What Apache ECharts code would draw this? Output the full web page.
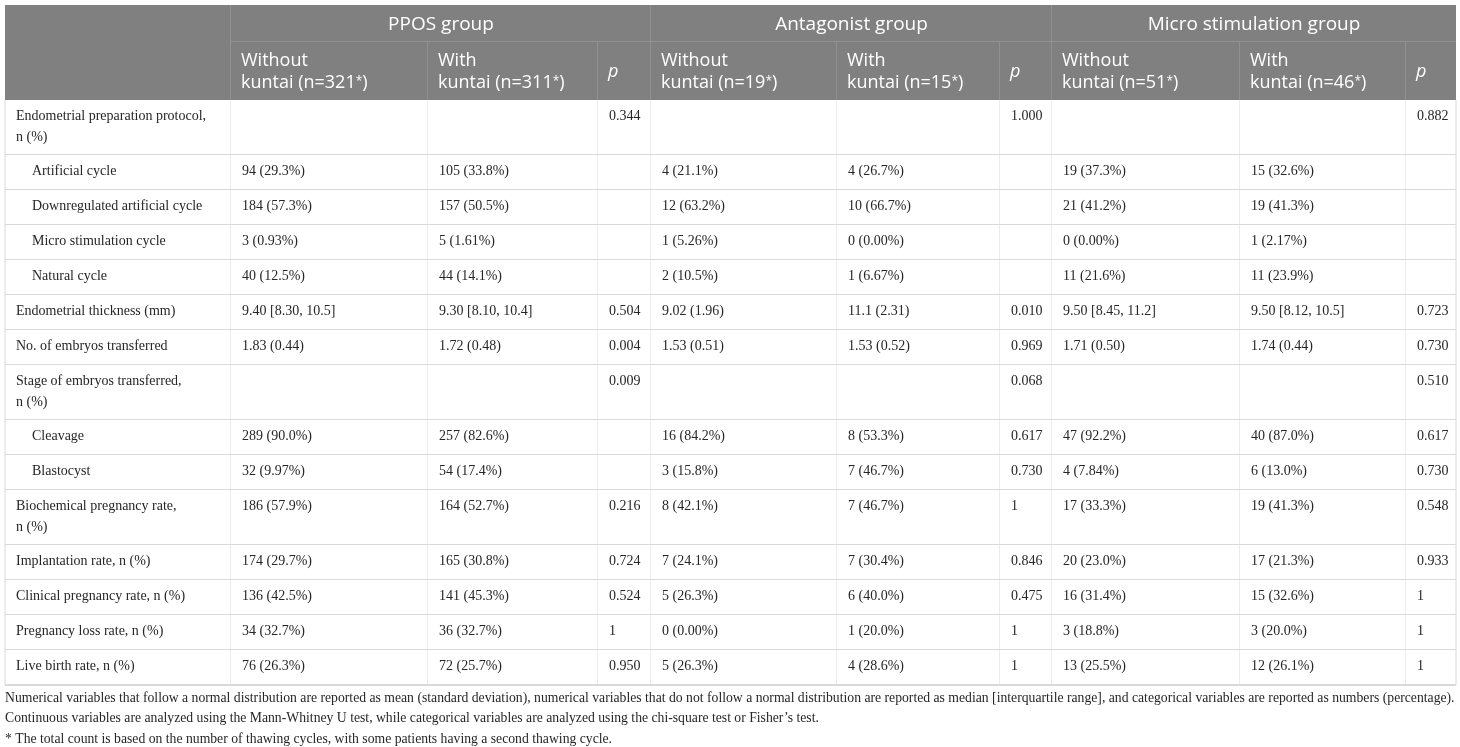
<!DOCTYPE html>
<html>
<head>
<meta charset="utf-8">
<script src="https://cdn.jsdelivr.net/npm/echarts@6/dist/echarts.min.js"></script>
<style>
  html, body { margin: 0; padding: 0; background: #fff; }
  #main { width: 1460px; height: 747px; }
</style>
</head>
<body>
<div id="main"></div>
<script>
// table content ---------------------------------------------------------------
const groupNames = ['PPOS group', 'Antagonist group', 'Micro stimulation group'];
const nWithout = [321, 19, 51];
const nWith = [311, 15, 46];

const rowLabels = [
    'Endometrial preparation protocol,\nn (%)',
    'Artificial cycle',
    'Downregulated artificial cycle',
    'Micro stimulation cycle',
    'Natural cycle',
    'Endometrial thickness (mm)',
    'No. of embryos transferred',
    'Stage of embryos transferred,\nn (%)',
    'Cleavage',
    'Blastocyst',
    'Biochemical pregnancy rate,\nn (%)',
    'Implantation rate, n (%)',
    'Clinical pregnancy rate, n (%)',
    'Pregnancy loss rate, n (%)',
    'Live birth rate, n (%)'
];
// rows that are sub-categories (indented)
const subRows = [1, 2, 3, 4, 8, 9];

const pposWithout = ['', '94 (29.3%)', '184 (57.3%)', '3 (0.93%)', '40 (12.5%)', '9.40 [8.30, 10.5]', '1.83 (0.44)', '', '289 (90.0%)', '32 (9.97%)', '186 (57.9%)', '174 (29.7%)', '136 (42.5%)', '34 (32.7%)', '76 (26.3%)'];
const pposWith = ['', '105 (33.8%)', '157 (50.5%)', '5 (1.61%)', '44 (14.1%)', '9.30 [8.10, 10.4]', '1.72 (0.48)', '', '257 (82.6%)', '54 (17.4%)', '164 (52.7%)', '165 (30.8%)', '141 (45.3%)', '36 (32.7%)', '72 (25.7%)'];
const pposP = ['0.344', '', '', '', '', '0.504', '0.004', '0.009', '', '', '0.216', '0.724', '0.524', '1', '0.950'];

const antWithout = ['', '4 (21.1%)', '12 (63.2%)', '1 (5.26%)', '2 (10.5%)', '9.02 (1.96)', '1.53 (0.51)', '', '16 (84.2%)', '3 (15.8%)', '8 (42.1%)', '7 (24.1%)', '5 (26.3%)', '0 (0.00%)', '5 (26.3%)'];
const antWith = ['', '4 (26.7%)', '10 (66.7%)', '0 (0.00%)', '1 (6.67%)', '11.1 (2.31)', '1.53 (0.52)', '', '8 (53.3%)', '7 (46.7%)', '7 (46.7%)', '7 (30.4%)', '6 (40.0%)', '1 (20.0%)', '4 (28.6%)'];
const antP = ['1.000', '', '', '', '', '0.010', '0.969', '0.068', '0.617', '0.730', '1', '0.846', '0.475', '1', '1'];

const microWithout = ['', '19 (37.3%)', '21 (41.2%)', '0 (0.00%)', '11 (21.6%)', '9.50 [8.45, 11.2]', '1.71 (0.50)', '', '47 (92.2%)', '4 (7.84%)', '17 (33.3%)', '20 (23.0%)', '16 (31.4%)', '3 (18.8%)', '13 (25.5%)'];
const microWith = ['', '15 (32.6%)', '19 (41.3%)', '1 (2.17%)', '11 (23.9%)', '9.50 [8.12, 10.5]', '1.74 (0.44)', '', '40 (87.0%)', '6 (13.0%)', '19 (41.3%)', '17 (21.3%)', '15 (32.6%)', '3 (20.0%)', '12 (26.1%)'];
const microP = ['0.882', '', '', '', '', '0.723', '0.730', '0.510', '0.617', '0.730', '0.548', '0.933', '1', '1', '1'];

const notes = [
    'Numerical variables that follow a normal distribution are reported as mean (standard deviation), numerical variables that do not follow a normal distribution are reported as median [interquartile range], and categorical variables are reported as numbers (percentage).',
    'Continuous variables are analyzed using the Mann-Whitney U test, while categorical variables are analyzed using the chi-square test or Fisher\u2019s test.',
    '* The total count is based on the number of thawing cycles, with some patients having a second thawing cycle.'
];

// layout -------------------------------------------------------------------
const colEdges = [0, 226, 423, 593, 646, 832, 995, 1047, 1235, 1401, 1451];
const headHeights = [37, 58];
const tableW = colEdges[colEdges.length - 1];

let rowTops = [0, headHeights[0], headHeights[0] + headHeights[1]];
for (let i = 0; i < rowLabels.length; i++) {
    let h = rowLabels[i].indexOf('\n') != -1 ? 55 : 35;
    rowTops.push(rowTops[rowTops.length - 1] + h);
}
const tableH = rowTops[rowTops.length - 1];

let columns = [
    pposWithout, pposWith, pposP,
    antWithout, antWith, antP,
    microWithout, microWith, microP
];

// build cells
let cells = [];
cells.push({c0: 0, c1: 1, r0: 0, r1: 2, kind: 'corner', text: ''});
for (let g = 0; g < groupNames.length; g++) {
    cells.push({c0: 1 + g * 3, c1: 4 + g * 3, r0: 0, r1: 1, kind: 'group', text: groupNames[g]});
    cells.push({c0: 1 + g * 3, c1: 2 + g * 3, r0: 1, r1: 2, kind: 'sub', text: 'Without\nkuntai (n=' + nWithout[g] + '{s|*})'});
    cells.push({c0: 2 + g * 3, c1: 3 + g * 3, r0: 1, r1: 2, kind: 'sub', text: 'With\nkuntai (n=' + nWith[g] + '{s|*})'});
    cells.push({c0: 3 + g * 3, c1: 4 + g * 3, r0: 1, r1: 2, kind: 'p', text: 'p'});
}
for (let i = 0; i < rowLabels.length; i++) {
    let r = i + 2;
    cells.push({c0: 0, c1: 1, r0: r, r1: r + 1, kind: subRows.indexOf(i) != -1 ? 'indent' : 'label', text: rowLabels[i]});
    for (let j = 0; j < columns.length; j++) {
        cells.push({c0: j + 1, c1: j + 2, r0: r, r1: r + 1, kind: 'value', text: columns[j][i]});
    }
}

let cellData = cells.map(function (c) {
    return [colEdges[c.c0], rowTops[c.r0], colEdges[c.c1], rowTops[c.r1]];
});

const headBg = '#808080';
const headLine = '#a3a3a3';
const bodyLine = '#d9d9d9';
const serif = '"Liberation Serif", "DejaVu Serif", serif';
const sans = '"Open Sans", "Noto Sans", sans-serif';

function renderCell(params, api) {
    let c = cells[params.dataIndex];
    let p0 = api.coord([api.value(0), api.value(1)]);
    let p1 = api.coord([api.value(2), api.value(3)]);
    let x0 = p0[0], y0 = p0[1], x1 = p1[0], y1 = p1[1];
    let isHead = c.r0 < 2;
    let children = [];

    children.push({
        type: 'rect',
        shape: {x: x0, y: y0, width: x1 - x0, height: y1 - y0},
        style: {fill: isHead ? headBg : '#fff'}
    });

    if (isHead) {
        if (c.r1 == 1) {
            children.push({type: 'line', shape: {x1: x0, y1: y1, x2: x1, y2: y1}, style: {stroke: headLine, lineWidth: 1}});
        }
        if (c.c1 < colEdges.length - 1) {
            children.push({type: 'line', shape: {x1: x1, y1: y0, x2: x1, y2: y1}, style: {stroke: headLine, lineWidth: 1}});
        }
    } else {
        children.push({type: 'line', shape: {x1: x0, y1: y1, x2: x1, y2: y1}, style: {stroke: bodyLine, lineWidth: 2}});
        children.push({type: 'line', shape: {x1: x1, y1: y0, x2: x1, y2: y1}, style: {stroke: bodyLine, lineWidth: 1}});
        if (c.c0 == 0) {
            children.push({type: 'line', shape: {x1: x0, y1: y0, x2: x0, y2: y1}, style: {stroke: bodyLine, lineWidth: 1}});
        }
    }

    if (c.kind == 'group') {
        children.push({
            type: 'text',
            style: {
                text: c.text, x: (x0 + x1) / 2, y: (y0 + y1) / 2 + 1,
                align: 'center', verticalAlign: 'middle',
                fontFamily: sans, fontSize: 19, fill: '#fff'
            }
        });
    } else if (c.kind == 'sub' || c.kind == 'p') {
        children.push({
            type: 'text',
            style: {
                text: c.text, x: x0 + 10, y: (y0 + y1) / 2 + 1,
                align: 'left', verticalAlign: 'middle',
                fontFamily: sans, fontSize: 18, lineHeight: 22,
                fontStyle: c.kind == 'p' ? 'italic' : 'normal',
                fill: '#fff',
                rich: {
                    s: {fontFamily: sans, fontSize: 12, fill: '#fff', lineHeight: 22, padding: [0, 0, 3, 0]}
                }
            }
        });
    } else if (c.text) {
        let indent = c.kind == 'indent' ? 16 : 0;
        children.push({
            type: 'text',
            style: {
                text: c.text, x: x0 + 11 + indent, y: y0 + 6,
                align: 'left', verticalAlign: 'top',
                fontFamily: serif, fontSize: 14, lineHeight: 21,
                fill: '#262626'
            }
        });
    }
    return {type: 'group', children: children};
}

var myChart = echarts.init(document.getElementById('main'));
var option = {
    animation: false,
    backgroundColor: '#fff',
    title: {
        text: notes.join('\n'),
        left: 5,
        top: 688,
        padding: 0,
        textStyle: {
            fontFamily: serif,
            fontSize: 13.7,
            fontWeight: 'normal',
            lineHeight: 20.5,
            color: '#262626'
        }
    },
    grid: {left: 5, top: 5, width: tableW, height: tableH},
    xAxis: {type: 'value', min: 0, max: tableW, show: false},
    yAxis: {type: 'value', min: 0, max: tableH, inverse: true, show: false},
    series: [{
        type: 'custom',
        coordinateSystem: 'cartesian2d',
        clip: false,
        silent: true,
        encode: {x: [0, 2], y: [1, 3]},
        renderItem: renderCell,
        data: cellData
    }]
};
myChart.setOption(option);
window.addEventListener("resize", function () {
    myChart.resize();
});
</script>
</body>
</html>
